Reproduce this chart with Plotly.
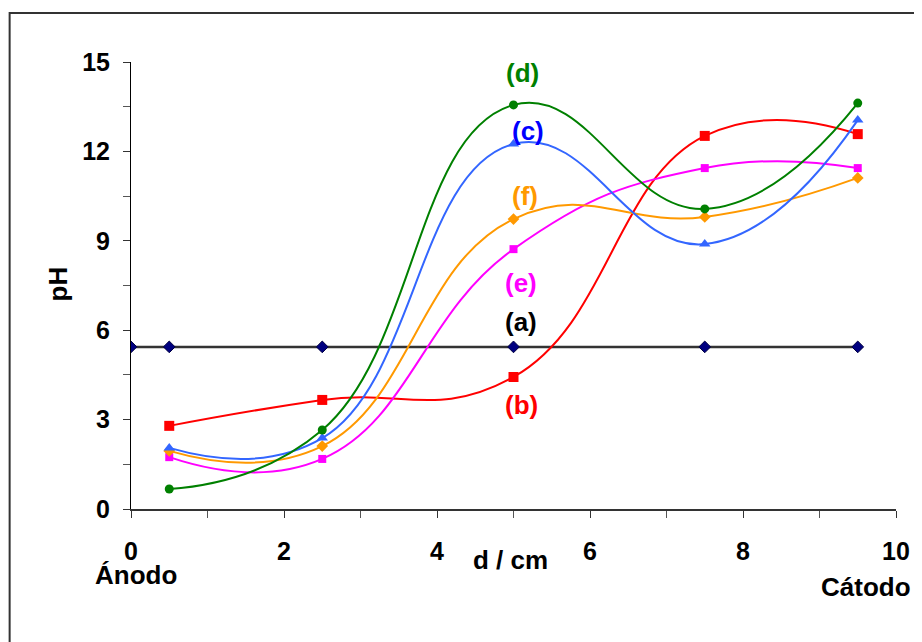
import plotly.graph_objects as go

x_a = [0, 0.5, 2.5, 5, 7.5, 9.5]
y_a = [5.44, 5.44, 5.44, 5.44, 5.44, 5.44]
x_pts = [0.5, 2.5, 5, 7.5, 9.5]
y_b = [2.79, 3.66, 4.43, 12.52, 12.58]
y_c = [2.05, 2.38, 12.25, 8.89, 13.05]
y_d = [0.67, 2.65, 13.56, 10.07, 13.62]
y_e = [1.74, 1.68, 8.72, 11.44, 11.44]
y_f = [1.95, 2.11, 9.73, 9.80, 11.11]

labels = ["(d)", "(c)", "(f)", "(e)", "(a)", "(b)"]
label_x = [5.12, 5.19, 5.15, 5.1, 5.1, 5.1]
label_y = [14.63, 12.68, 10.5, 7.58, 6.28, 3.5]
label_colors = ["#008000", "#0000FF", "#FF9900", "#FF00FF", "#000000", "#FF0000"]

FONT = "Liberation Sans, Arial, sans-serif"
OFF = 8  # page body margin

fig = go.Figure()

fig.add_trace(go.Scatter(x=x_a, y=y_a, mode="lines+markers",
                         line=dict(color="#333333", width=2.5),
                         marker=dict(symbol="diamond", size=9, color="#000080",
                                     line=dict(color="#000040", width=1))))
spl = 1.3
fig.add_trace(go.Scatter(x=x_pts, y=y_b, mode="lines+markers",
                         line=dict(color="#FF0000", width=2, shape="spline", smoothing=spl),
                         marker=dict(symbol="square", size=10, color="#FF0000")))
fig.add_trace(go.Scatter(x=x_pts, y=y_e, mode="lines+markers",
                         line=dict(color="#FF00FF", width=2, shape="spline", smoothing=spl),
                         marker=dict(symbol="square", size=8, color="#FF00FF")))
fig.add_trace(go.Scatter(x=x_pts, y=y_f, mode="lines+markers",
                         line=dict(color="#FF9900", width=2, shape="spline", smoothing=spl),
                         marker=dict(symbol="diamond", size=9, color="#FF9900")))
fig.add_trace(go.Scatter(x=x_pts, y=y_c, mode="lines+markers",
                         line=dict(color="#3366FF", width=2, shape="spline", smoothing=spl),
                         marker=dict(symbol="triangle-up", size=10, color="#3366FF")))
fig.add_trace(go.Scatter(x=x_pts, y=y_d, mode="lines+markers",
                         line=dict(color="#008000", width=2, shape="spline", smoothing=spl),
                         marker=dict(symbol="circle", size=9, color="#008000")))

for t, lx, ly, c in zip(labels, label_x, label_y, label_colors):
    fig.add_annotation(x=lx, y=ly, text=t, showarrow=False,
                       xanchor="center", yanchor="middle",
                       font=dict(family=FONT, size=26, color=c, weight="bold"))

def px(p):
    return (p - 131) / 769

def py(p):
    return (509 - p) / 447

def note(x, y, text, angle=0):
    fig.add_annotation(xref="paper", yref="paper", x=px(x), y=py(y),
                       text=text, showarrow=False, textangle=angle,
                       xanchor="center", yanchor="middle",
                       font=dict(family=FONT, size=26, color="black", weight="bold"))

note(136, 575, "Ánodo")
note(870, 587, "Cátodo")
note(512, 560, "d / cm")
note(58, 284, "pH", -90)

fig.add_shape(type="rect", xref="paper", yref="paper",
              x0=px(9), x1=px(940), y0=py(670), y1=py(13),
              line=dict(color="#333333", width=2), layer="below")

fig.update_layout(
    width=922 - OFF, height=642 - OFF,
    margin=dict(l=131 - OFF, r=22, t=62 - OFF, b=133),
    paper_bgcolor="white", plot_bgcolor="white",
    showlegend=False,
    xaxis=dict(range=[0, 10], dtick=2, tick0=0, showgrid=False, zeroline=False,
               showline=True, linecolor="#333333", linewidth=1.5,
               ticks="outside", ticklen=7, tickcolor="#333333",
               ticklabelstandoff=12,
               tickfont=dict(family=FONT, size=25, color="black", weight="bold"),
               minor=dict(dtick=1, ticks="outside", ticklen=7, tickcolor="#555555")),
    yaxis=dict(range=[0, 15], dtick=3, tick0=0, showgrid=False, zeroline=False,
               showline=True, linecolor="#000000", linewidth=1,
               ticks="outside", ticklen=7, tickcolor="#333333",
               ticklabelstandoff=8,
               tickfont=dict(family=FONT, size=25, color="black", weight="bold"),
               minor=dict(dtick=1.5, ticks="outside", ticklen=7, tickcolor="#555555")),
)

fig.write_html("out.html")
